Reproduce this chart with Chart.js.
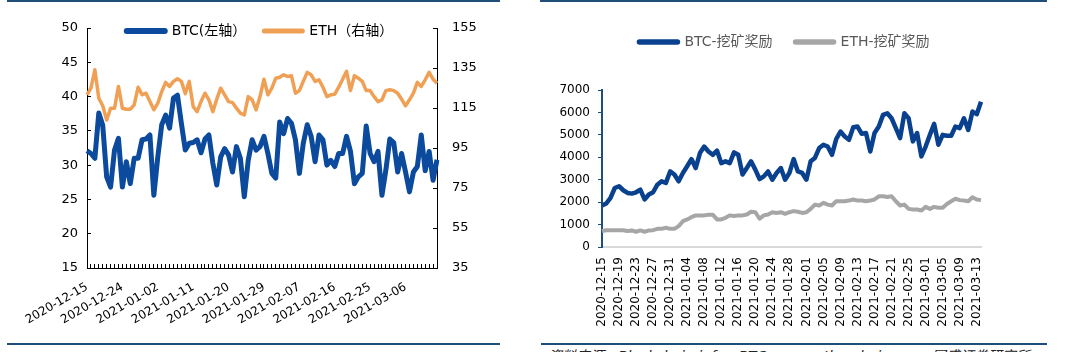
<!DOCTYPE html>
<html lang="zh">
<head>
<meta charset="UTF-8">
<title>BTC / ETH 手续费与挖矿奖励</title>
<style>
  body { margin: 0; background: #fff; width: 1078px; height: 352px; overflow: hidden; position: relative;
         font-family: 'DejaVu Sans', 'Noto Sans CJK SC', sans-serif; }
  .box { position: absolute; top: 0; height: 340px; }
  .rule { position: absolute; height: 2px; background: #1f4e79; }
  .source { position: absolute; left: 548px; top: 345px; font-size: 14px; font-style: italic;
            color: #222; white-space: nowrap; }
</style>
</head>
<body>
  <div class="rule" style="left:7px;width:493px;top:0"></div>
  <div class="rule" style="left:540px;width:507px;top:0"></div>
  <div class="box" style="left:0;width:520px"><canvas id="feeChart" width="520" height="340"></canvas></div>
  <div class="box" style="left:540px;width:538px"><canvas id="rewardChart" width="538" height="340"></canvas></div>
  <div class="rule" style="left:7px;width:493px;top:343px"></div>
  <div class="rule" style="left:541px;width:506px;top:343px"></div>
  <div class="source">资料来源：Blockchain.info、BTC.com、etherchain.org、国盛证券研究所</div>

  <script src="https://cdn.jsdelivr.net/npm/chart.js"></script>
  <script>
    // 2020-12-15 .. 2021-03-14, one point per day
    const startDate = '2020-12-15';
    const dayCount = 90;

    // left chart: BTC (left axis) and ETH (right axis)
    const btcLeft = [32.1,31.7,31.0,37.6,35.8,28.3,26.8,32.2,33.9,26.8,
      30.5,27.3,31.0,31.0,33.7,33.8,34.4,25.6,31.2,35.9,
      37.3,35.4,39.8,40.2,36.1,32.2,33.2,33.3,33.7,31.8,
      33.8,34.4,30.3,27.1,31.2,32.4,31.5,29.0,32.7,31.0,
      25.4,30.7,33.7,32.2,32.7,34.2,31.7,28.8,28.1,36.3,
      34.6,36.8,36.1,33.7,28.8,33.2,35.9,34.2,30.5,34.4,
      33.7,30.0,30.7,29.8,31.7,31.7,34.2,32.0,27.3,28.3,
      28.8,35.7,31.7,30.5,32.0,25.6,29.3,33.8,33.3,29.0,
      31.7,29.0,26.1,29.0,29.8,34.4,29.2,32.0,27.8,30.8];
    const ethRight = [121.6,124.9,134.1,119.9,116.1,109.0,114.9,114.9,125.8,114.9,
      114.4,114.4,116.6,125.4,121.6,122.4,118.2,114.1,117.4,123.2,
      127.8,125.8,128.3,129.6,128.3,122.1,128.3,115.7,113.2,118.2,
      122.4,119.1,113.2,119.4,124.9,121.6,118.2,117.7,114.9,112.4,
      111.5,120.7,119.1,114.1,120.7,129.4,121.6,124.9,129.9,130.4,
      131.6,130.8,131.1,122.4,123.7,128.3,132.8,131.6,128.3,129.1,
      125.4,120.7,121.6,121.9,125.4,129.4,133.3,123.7,131.1,129.9,
      128.3,123.7,123.7,120.7,118.2,119.1,123.7,124.1,123.7,122.4,
      119.4,116.1,119.1,122.4,127.8,125.8,129.1,132.8,129.4,127.4];

    // right chart: mining reward
    const btcReward = [1850,1940,2190,2630,2710,2530,2410,2380,2440,2560,
      2120,2340,2440,2780,2930,2860,3370,3230,2930,3300,
      3600,3920,3520,4190,4480,4260,4110,4300,3740,3820,
      3740,4220,4110,3230,3520,3820,3450,3030,3150,3370,
      3000,3300,3520,3000,3300,3920,3370,3300,3000,3820,
      3970,4410,4560,4480,4110,4810,5150,4930,4780,5340,
      5370,5050,5080,4260,5080,5370,5890,5960,5740,5300,
      4850,5960,5740,4710,5080,4040,4480,5000,5490,4560,
      5000,4960,4960,5370,5300,5740,5220,6040,5920,6480];
    const ethReward = [710,750,750,750,750,750,710,740,680,740,
      680,740,750,810,810,860,810,810,930,1150,
      1230,1330,1410,1410,1410,1440,1440,1230,1230,1300,
      1410,1380,1410,1410,1450,1570,1550,1260,1410,1450,
      1550,1520,1550,1480,1550,1600,1570,1520,1550,1700,
      1890,1850,1970,1890,1850,2040,2040,2040,2070,2120,
      2070,2070,2040,2070,2120,2260,2260,2230,2260,2040,
      1850,1890,1700,1670,1670,1630,1790,1700,1790,1750,
      1750,1920,2040,2150,2090,2070,2040,2220,2120,2090];

    const leftTicks = { min: 15, max: 50, step: 5 };
    const rightTicks = { min: 35, max: 155, step: 20 };
    const rewardTicks = { min: 0, max: 7000, step: 1000 };

    function makeDates(start, n) {
      const out = [];
      const d = new Date(start + 'T00:00:00Z');
      for (let i = 0; i < n; i++) {
        out.push(d.toISOString().slice(0, 10));
        d.setUTCDate(d.getUTCDate() + 1);
      }
      return out;
    }
    const dates = makeDates(startDate, dayCount);

    const FONT = "'DejaVu Sans', 'Noto Sans CJK SC', sans-serif";
    const BLUE = '#0b4a9c';
    const ORANGE = '#f0a055';
    const GREY = '#a6a6a6';
    const NAVY = '#1f4e79';

    // put the legend where the reference has it, independent of the layout
    const legendPlace = {
      id: 'legendPlace',
      afterLayout(chart, args, opts) {
        const lg = chart.legend;
        if (!lg || opts.top === undefined) return;
        lg.top = opts.top;
        lg.height = 40;
        lg.bottom = opts.top + 40;
        lg.left += opts.dx || 0;
        lg.right += opts.dx || 0;
      }
    };

    function lineLegend(color) {
      return chart => chart.data.datasets.map((d, i) => ({
        text: d.label,
        fillStyle: d.borderColor,
        strokeStyle: d.borderColor,
        lineWidth: d.legendWidth,
        lineCap: 'round',
        pointStyle: 'line',
        fontColor: color,
        hidden: false,
        datasetIndex: i
      }));
    }

    Chart.defaults.font.family = FONT;
    Chart.defaults.color = '#000';

    new Chart(document.getElementById('feeChart'), {
      type: 'line',
      data: {
        labels: dates,
        datasets: [
          { label: 'BTC(左轴）', data: btcLeft, yAxisID: 'y', borderColor: BLUE, backgroundColor: BLUE,
            borderWidth: 5, legendWidth: 6, pointRadius: 0, borderJoinStyle: 'round', tension: 0 },
          { label: 'ETH（右轴）', data: ethRight, yAxisID: 'y1', borderColor: ORANGE, backgroundColor: ORANGE,
            borderWidth: 3.5, legendWidth: 5, pointRadius: 0, borderJoinStyle: 'round', tension: 0 }
        ]
      },
      options: {
        responsive: false,
        animation: false,
        layout: { padding: { top: 27, left: 0, right: 0, bottom: 0 } },
        plugins: {
          legend: {
            position: 'top',
            maxHeight: 1,
            labels: { usePointStyle: true, pointStyleWidth: 38, padding: 18,
                      font: { size: 14 }, generateLabels: lineLegend('#000') }
          },
          legendPlace: { top: 6, dx: 0 },
          tooltip: { enabled: false }
        },
        scales: {
          x: {
            offset: false,
            grid: { drawOnChartArea: false, drawTicks: true, tickLength: -4, color: '#000' },
            border: { color: '#000', width: 1 },
            ticks: {
              autoSkip: false, maxRotation: 30, minRotation: 30, padding: 16,
              font: { size: 12 }, color: '#000',
              callback: function (v, i) { return i % 9 === 0 ? this.getLabelForValue(v) : ''; }
            },
            afterFit: s => { s.height = 72; }
          },
          y: {
            position: 'left',
            min: leftTicks.min, max: leftTicks.max,
            grid: { drawOnChartArea: false, tickLength: -4, color: '#000' },
            border: { color: '#000', width: 1 },
            ticks: { stepSize: leftTicks.step, padding: 13, font: { size: 13 }, color: '#000' },
            afterFit: s => { s.width = 87; }
          },
          y1: {
            position: 'right',
            min: rightTicks.min, max: rightTicks.max,
            grid: { drawOnChartArea: false, tickLength: -4, color: '#000' },
            border: { color: '#000', width: 1 },
            ticks: { stepSize: rightTicks.step, padding: 19, font: { size: 13 }, color: '#000' },
            afterFit: s => { s.width = 83; }
          }
        }
      },
      plugins: [legendPlace]
    });

    new Chart(document.getElementById('rewardChart'), {
      type: 'line',
      data: {
        labels: dates,
        datasets: [
          { label: 'BTC-挖矿奖励', data: btcReward, borderColor: '#0a418f', backgroundColor: '#0a418f',
            borderWidth: 4.5, legendWidth: 5.5, pointRadius: 0, borderJoinStyle: 'round', tension: 0 },
          { label: 'ETH-挖矿奖励', data: ethReward, borderColor: GREY, backgroundColor: GREY,
            borderWidth: 4, legendWidth: 5.5, pointRadius: 0, borderJoinStyle: 'round', tension: 0 }
        ]
      },
      options: {
        responsive: false,
        animation: false,
        layout: { padding: { top: 89, left: 0, right: 97, bottom: 0 } },
        plugins: {
          legend: {
            position: 'top',
            maxHeight: 1,
            labels: { usePointStyle: true, pointStyleWidth: 38, padding: 23,
                      font: { size: 14 }, generateLabels: lineLegend('#595959') }
          },
          legendPlace: { top: 12, dx: 24 },
          tooltip: { enabled: false }
        },
        scales: {
          x: {
            offset: false,
            grid: { display: false, drawTicks: false },
            border: { color: '#d9d9d9', width: 2 },
            ticks: {
              autoSkip: false, maxRotation: 90, minRotation: 90, padding: 10,
              font: { size: 12 }, color: '#000',
              callback: function (v, i) { return i % 4 === 0 ? this.getLabelForValue(v) : ''; }
            },
            afterFit: s => { s.height = 93; }
          },
          y: {
            min: rewardTicks.min, max: rewardTicks.max,
            grid: { drawOnChartArea: false, tickLength: 4, color: NAVY },
            border: { color: NAVY, width: 2 },
            ticks: { stepSize: rewardTicks.step, padding: 8, font: { size: 12 }, color: '#000',
                     callback: v => String(v) },
            afterFit: s => { s.width = 62; }
          }
        }
      },
      plugins: [legendPlace]
    });
  </script>
</body>
</html>
